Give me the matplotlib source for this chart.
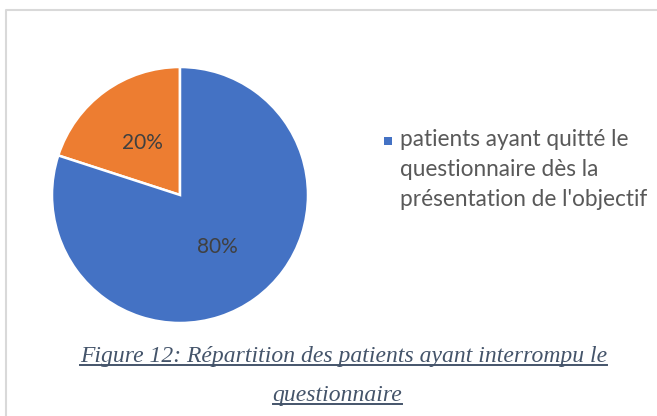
import matplotlib
matplotlib.use("Agg")
import matplotlib.pyplot as plt

# Données
valeurs = [20, 80]
couleurs = ["#ED7D31", "#4472C4"]
legende_couleur = couleurs[1]
legende_lignes = ["patients ayant quitté le", "questionnaire dès la", "présentation de l'objectif"]
caption_l1 = "Figure 12: Répartition des patients ayant interrompu le"
caption_l2 = "questionnaire"

W, H = 657, 416
fig = plt.figure(figsize=(W / 100, H / 100), dpi=100)
fig.patch.set_facecolor("white")

# cadre gris du graphique
bord = fig.add_axes([0, 0, 1, 1])
bord.set_xlim(0, W)
bord.set_ylim(H, 0)
bord.axis("off")
bord.plot([6, 6, W + 5], [H + 5, 9.5, 9.5], color="#D9D9D9", lw=1.5, solid_capstyle="butt")

# camembert
cx, cy, r = 180, 195, 128
ax = fig.add_axes([(cx - r) / W, (H - cy - r) / H, 2 * r / W, 2 * r / H])
wedges, _, autotexts = ax.pie(
    valeurs, colors=couleurs, startangle=90, counterclock=True,
    autopct="%1.0f%%", pctdistance=0.5,
    wedgeprops=dict(edgecolor="white", linewidth=1.8),
    textprops=dict(color="#404040", fontsize=15, family="Lato"),
)
ax.set_xlim(-1, 1)
ax.set_ylim(-1, 1)
ax.set_aspect("equal")

# légende (une seule entrée)
bord.add_patch(plt.Rectangle((384, 137), 8, 8, color=legende_couleur, lw=0))
for i, ligne in enumerate(legende_lignes):
    bord.text(400, 146 + i * 30, ligne, fontsize=16.3, family="Lato",
              color="#595959", va="baseline", ha="left")

# légende de figure, italique souligné
couleur_cap = "#44546A"
t1 = bord.text(343.5, 362, caption_l1, fontsize=17, family="Liberation Serif",
               style="italic", color=couleur_cap, ha="center", va="baseline")
t2 = bord.text(337.5, 401, caption_l2, fontsize=17, family="Liberation Serif",
               style="italic", color=couleur_cap, ha="center", va="baseline")
fig.canvas.draw()
inv = bord.transData.inverted()
for t, yl in [(t1, 364.5), (t2, 403.5)]:
    bb = t.get_window_extent()
    x0, _ = inv.transform((bb.x0, bb.y0))
    x1, _ = inv.transform((bb.x1, bb.y0))
    bord.plot([x0, x1], [yl, yl], color=couleur_cap, lw=1.4)

fig.savefig("out.png", dpi=100)
